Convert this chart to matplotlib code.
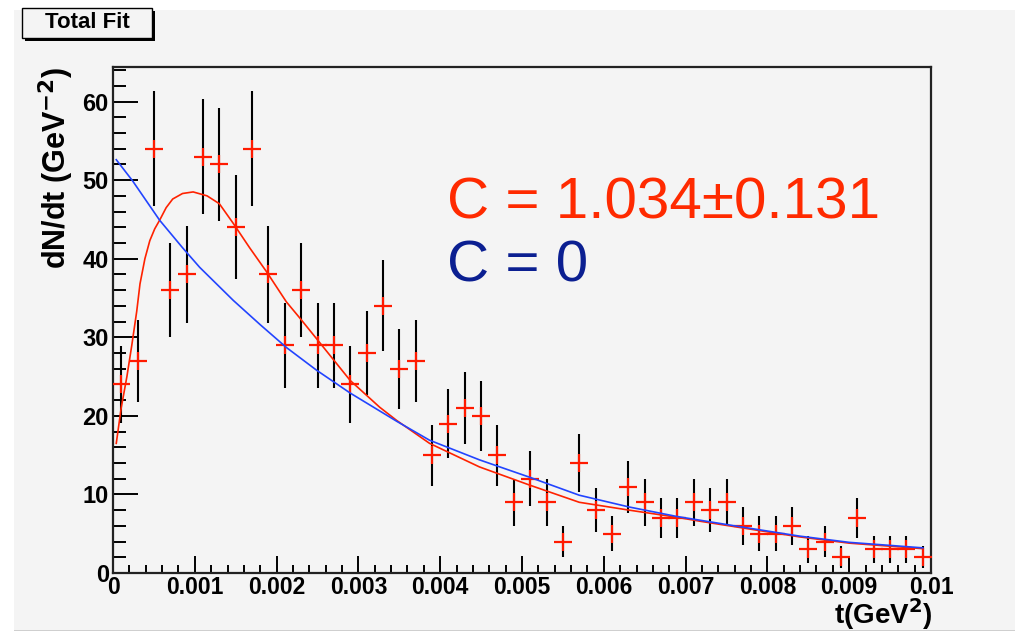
import matplotlib
matplotlib.use("Agg")
import matplotlib.pyplot as plt
from matplotlib.patches import Rectangle
from matplotlib.ticker import MultipleLocator, FuncFormatter

# ---- data ----
t_bins = [0.0001, 0.0003, 0.0005, 0.0007, 0.0009, 0.0011, 0.0013, 0.0015, 0.0017, 0.0019,
          0.0021, 0.0023, 0.0025, 0.0027, 0.0029, 0.0031, 0.0033, 0.0035, 0.0037, 0.0039,
          0.0041, 0.0043, 0.0045, 0.0047, 0.0049, 0.0051, 0.0053, 0.0055, 0.0057, 0.0059,
          0.0061, 0.0063, 0.0065, 0.0067, 0.0069, 0.0071, 0.0073, 0.0075, 0.0077, 0.0079,
          0.0081, 0.0083, 0.0085, 0.0087, 0.0089, 0.0091, 0.0093, 0.0095, 0.0097, 0.0099]
counts = [24, 27, 54, 36, 38, 53, 52, 44, 54, 38,
          29, 36, 29, 29, 24, 28, 34, 26, 27, 15,
          19, 21, 20, 15, 9, 12, 9, 4, 14, 8,
          5, 11, 9, 7, 7, 9, 8, 9, 6, 5,
          5, 6, 3, 4, 2, 7, 3, 3, 3, 2]
errors = [4.9, 5.2, 7.3, 6.0, 6.2, 7.3, 7.2, 6.6, 7.3, 6.2,
          5.4, 6.0, 5.4, 5.4, 4.9, 5.3, 5.8, 5.1, 5.2, 3.9,
          4.4, 4.6, 4.5, 3.9, 3.0, 3.5, 3.0, 2.0, 3.7, 2.8,
          2.2, 3.3, 3.0, 2.6, 2.6, 3.0, 2.8, 3.0, 2.4, 2.2,
          2.2, 2.4, 1.7, 2.0, 1.4, 2.6, 1.7, 1.7, 1.7, 1.4]

# fit curve C = 1.034 (red)
red_fit_t = [0.00004, 0.0001, 0.00017, 0.00023, 0.00029, 0.00033, 0.00039, 0.00045, 0.00051,
             0.00057, 0.00065, 0.00073, 0.00085, 0.00098, 0.00115, 0.0013, 0.00147, 0.00167,
             0.00188, 0.00212, 0.00228, 0.00249, 0.0029, 0.00326, 0.00347, 0.00387, 0.00448,
             0.00509, 0.0057, 0.00631, 0.00689, 0.00717, 0.00778, 0.00839, 0.009, 0.0099]
red_fit_y = [16.5, 21.0, 25.0, 29.0, 33.3, 36.8, 40.0, 42.3, 43.8,
             44.9, 46.5, 47.6, 48.3, 48.5, 48.0, 47.0, 44.5, 41.4,
             38.3, 34.5, 32.5, 29.8, 24.5, 21.1, 19.4, 16.5, 13.5,
             11.2, 9.0, 8.0, 7.1, 6.6, 5.6, 4.6, 3.8, 3.1]

# fit curve C = 0 (blue)
blue_fit_t = [0.00004, 0.00024, 0.00057, 0.00085, 0.00106, 0.00147, 0.0018, 0.00212, 0.00249,
              0.0029, 0.00347, 0.00387, 0.00448, 0.00509, 0.0057, 0.00631, 0.00689, 0.00778,
              0.00839, 0.009, 0.0099]
blue_fit_y = [52.6, 49.9, 44.9, 41.4, 38.9, 34.7, 31.6, 28.7, 25.8,
              22.9, 19.3, 16.9, 14.4, 12.2, 9.9, 8.4, 7.2, 5.7,
              4.7, 3.9, 3.2]

title_text = "Total Fit"
red_label = "C = 1.034\u00b10.131"
blue_label = "C = 0"
x_ticks = [0, 0.001, 0.002, 0.003, 0.004, 0.005, 0.006, 0.007, 0.008, 0.009, 0.01]
x_tick_labels = ["0", "0.001", "0.002", "0.003", "0.004", "0.005", "0.006", "0.007",
                 "0.008", "0.009", "0.01"]

# ---- figure ----
W, H = 1015, 633
fig = plt.figure(figsize=(W / 100, H / 100), dpi=100, facecolor="white")
BG = "#f4f4f4"
fig.patches.append(Rectangle((14 / W, 3 / H), 1 - 14 / W, (H - 13) / H,
                             transform=fig.transFigure, facecolor=BG, edgecolor="none", zorder=-10))
fig.patches.append(Rectangle((14 / W, 2 / H), 1 - 14 / W, 1.2 / H,
                             transform=fig.transFigure, facecolor="#cfcfcf", edgecolor="none", zorder=-9))

ax = fig.add_axes([113 / W, 1 - 573 / H, (931 - 113) / W, (573 - 67) / H])
ax.set_facecolor(BG)
ax.set_xlim(0, 0.01)
ax.set_ylim(0, 64.4)

BOLD = {"family": "Liberation Sans", "weight": "bold"}

ax.errorbar(t_bins, counts, yerr=errors, fmt="none", ecolor="black", elinewidth=1.5,
            capsize=0, zorder=3)
ax.plot(t_bins, counts, linestyle="none", marker="+", markersize=13, markeredgewidth=1.6,
        color="#ff1a00", zorder=4)
ax.plot(red_fit_t, red_fit_y, color="#ff2200", linewidth=1.2, zorder=5)
ax.plot(blue_fit_t, blue_fit_y, color="#2244ff", linewidth=1.2, zorder=5)

ax.xaxis.set_minor_locator(MultipleLocator(0.0002))
ax.set_xticks(x_ticks)
ax.set_xticklabels(x_tick_labels)
ax.yaxis.set_major_locator(MultipleLocator(10))
ax.yaxis.set_minor_locator(MultipleLocator(2))
ax.yaxis.set_major_formatter(FuncFormatter(lambda v, p: f"{v:.0f}"))

ax.tick_params(axis="both", which="both", direction="in", top=False, right=False,
               width=1.4, color="black")
ax.tick_params(axis="y", which="major", length=18, pad=3)
ax.tick_params(axis="y", which="minor", length=9)
ax.tick_params(axis="x", which="major", length=12, pad=2)
ax.tick_params(axis="x", which="minor", length=6)
for lab in ax.get_yticklabels():
    lab.set_fontfamily("Liberation Sans")
    lab.set_fontweight("bold")
    lab.set_fontsize(17)
for lab in ax.get_xticklabels():
    lab.set_fontfamily("Liberation Sans")
    lab.set_fontweight("bold")
    lab.set_fontsize(16.5)

for s in ax.spines.values():
    s.set_linewidth(1.6)
    s.set_color("#222222")

# x-axis title placed at the right end, below the tick labels (ROOT style)
fig.text(932 / W, 1 / H, "t(GeV$^\\mathbf{2}$)", ha="right", va="bottom",
         fontsize=20, **BOLD)
ax.set_ylabel("dN/dt (GeV$^\\mathbf{-2}$)", fontdict=dict(BOLD, size=22), loc="top", labelpad=5)

fig.text(447 / W, 1 - 218 / H, red_label, color="#ff2a00", fontsize=42,
         family="Liberation Sans", va="baseline", ha="left")
fig.text(447 / W, 1 - 282 / H, blue_label, color="#0b1f91", fontsize=42,
         family="Liberation Sans", va="baseline", ha="left")

# title box with shadow
fig.patches.append(Rectangle((25 / W, 1 - 41 / H), 130 / W, 30 / H, transform=fig.transFigure,
                             facecolor="black", edgecolor="none", zorder=1))
fig.patches.append(Rectangle((22 / W, 1 - 38 / H), 130 / W, 30 / H, transform=fig.transFigure,
                             facecolor=BG, edgecolor="black", linewidth=1.0, zorder=2))
fig.text(87 / W, 1 - 23 / H, title_text, ha="center", va="center", fontsize=16,
         family="Liberation Sans", weight="bold", zorder=3)

fig.savefig("out.png", dpi=100, facecolor="white")
